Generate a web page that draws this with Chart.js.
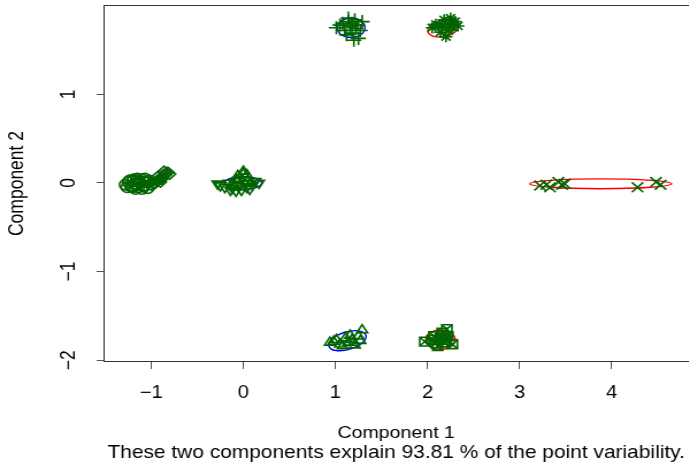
<!DOCTYPE html>
<html>
<head>
<meta charset="utf-8">
<script src="https://cdn.jsdelivr.net/npm/chart.js@4/dist/chart.umd.min.js"></script>
<style>
  html, body { margin: 0; padding: 0; background: #fff; overflow: hidden; }
  /* the reference is a horizontally stretched bitmap, so stretch ours the same way */
  #wrap { width: 599px; height: 465px; transform: scaleX(1.15); transform-origin: 0 0; }
  #c { display: block; }
</style>
</head>
<body>
<div id="wrap"><canvas id="c" width="599" height="465"></canvas></div>
<script>
const xTicks = [-1, 0, 1, 2, 3, 4];
const yTicks = [-2, -1, 0, 1];

// cluster near (-1, 0): open circles and diamonds
const circX = [-1.28, -1.25, -1.22, -1.2, -1.18, -1.16, -1.14, -1.12, -1.1, -1.08, -1.06, -1.04, -1.02, -1.0, -0.98, -1.15, -1.2, -1.1,
  -1.26, -1.23, -1.19, -1.13, -1.07, -1.03, -1.17, -1.09];
const circY = [-0.02, 0.01, -0.04, 0.02, -0.01, 0.03, -0.05, 0.0, 0.04, -0.03, 0.01, -0.06, 0.02, -0.02, 0.0, 0.05, -0.05, -0.07,
  -0.05, 0.03, 0.04, 0.02, 0.05, 0.03, -0.07, -0.04];
const diamX = [-0.96, -0.94, -0.92, -0.91, -0.9, -0.88, -0.87, -0.85, -0.84, -0.82, -0.86, -0.8, -0.89, -0.93];
const diamY = [0.0, 0.02, 0.03, 0.05, 0.01, 0.06, 0.08, 0.09, 0.11, 0.12, 0.13, 0.1, 0.04, 0.07];

// cluster near (0, 0): triangles up and down
const triUpX = [-0.12, -0.08, -0.04, 0.0, 0.02, 0.05, -0.1, 0.08, -0.02, 0.0, -0.06, 0.04];
const triUpY = [0.0, 0.03, 0.05, 0.1, 0.06, 0.02, -0.04, 0.0, -0.05, 0.13, 0.08, 0.09];
const triDnX = [-0.25, -0.2, -0.16, -0.12, -0.06, -0.02, 0.04, 0.1, 0.13, -0.08, -0.28, 0.17, -0.14, 0.07];
const triDnY = [-0.03, -0.05, 0.0, -0.06, -0.03, -0.08, -0.05, -0.02, 0.02, -0.09, -0.01, 0.0, -0.08, -0.07];

// top clusters: plus signs and asterisks
const plusX = [1.01, 1.05, 1.1, 1.14, 1.16, 1.18, 1.21, 1.24, 1.25, 1.2, 1.12, 1.27, 1.29, 1.14, 1.08, 1.22, 1.18];
const plusY = [1.75, 1.78, 1.72, 1.82, 1.76, 1.69, 1.84, 1.78, 1.63, 1.61, 1.67, 1.72, 1.82, 1.86, 1.8, 1.74, 1.8];
const starX = [2.05, 2.09, 2.14, 2.18, 2.21, 2.25, 2.27, 2.3, 2.33, 2.2, 2.16, 2.23, 2.12, 2.28];
const starY = [1.75, 1.79, 1.7, 1.84, 1.79, 1.86, 1.76, 1.82, 1.77, 1.65, 1.77, 1.72, 1.78, 1.8];

// right cluster: x marks
const crossX = [3.22, 3.29, 3.33, 3.42, 3.46, 3.49, 4.28, 4.48, 4.53];
const crossY = [-0.03, -0.02, -0.05, 0.01, -0.02, -0.01, -0.05, 0.01, -0.02];

// bottom clusters: triangles and boxed x
const triBX = [0.94, 1.01, 1.05, 1.11, 1.14, 1.18, 1.21, 1.25, 1.29, 1.27, 1.16, 1.08, 0.98, 1.2];
const triBY = [-1.8, -1.77, -1.82, -1.75, -1.8, -1.77, -1.83, -1.73, -1.66, -1.78, -1.72, -1.84, -1.79, -1.8];
const boxX = [1.97, 2.05, 2.09, 2.14, 2.18, 2.21, 2.22, 2.27, 2.11, 2.16, 2.07, 2.2];
const boxY = [-1.79, -1.77, -1.81, -1.75, -1.8, -1.65, -1.73, -1.82, -1.84, -1.69, -1.73, -1.77];

// cluster ellipses (data units)
const ellCx = [-0.92, 0.0, 1.17, 2.17, 3.88, 1.13, 2.14];
const ellCy = [0.06, 0.0, 1.75, 1.74, -0.01, -1.78, -1.77];
const ellA = [0.11, 0.2, 0.15, 0.17, 0.77, 0.21, 0.16];
const ellB = [0.06, 0.07, 0.11, 0.09, 0.055, 0.1, 0.11];
const ellAngle = [0.6, 0, 0, 0.2, 0, 0.3, 0];
const ellColor = ['#FF00FF', '#0000FF', '#0000FF', '#FF0000', '#FF0000', '#0000FF', '#FF0000'];

const green = '#006400';
const family = "'Liberation Sans', Arial, sans-serif";
const font = { family: family, size: 17.5 };

function pts(xs, ys) {
  return xs.map((x, i) => ({ x: x, y: ys[i] }));
}

function set(xs, ys, style, radius, rotation) {
  return {
    data: pts(xs, ys),
    pointStyle: style,
    pointRotation: rotation || 0,
    pointRadius: radius,
    pointBorderWidth: 1.6,
    pointBorderColor: green,
    pointBackgroundColor: 'rgba(0,0,0,0)',
    showLine: false
  };
}

const ellipsePlugin = {
  id: 'clusEllipses',
  beforeDatasetsDraw(chart) {
    const { ctx, chartArea, scales: { x, y } } = chart;
    const kx = x.getPixelForValue(1) - x.getPixelForValue(0);
    const ky = y.getPixelForValue(0) - y.getPixelForValue(1);
    ctx.save();
    ctx.beginPath();
    ctx.rect(chartArea.left, chartArea.top, chartArea.right - chartArea.left, chartArea.bottom - chartArea.top);
    ctx.clip();
    ellCx.forEach((cx, i) => {
      ctx.save();
      ctx.translate(x.getPixelForValue(cx), y.getPixelForValue(ellCy[i]));
      ctx.scale(kx, -ky);
      ctx.rotate(ellAngle[i]);
      ctx.beginPath();
      ctx.ellipse(0, 0, ellA[i], ellB[i], 0, 0, Math.PI * 2);
      ctx.restore();
      ctx.strokeStyle = ellColor[i];
      ctx.lineWidth = 1.4;
      ctx.stroke();
    });
    ctx.restore();
  }
};

const topBorder = {
  id: 'topBorder',
  afterDraw(chart) {
    const { ctx, chartArea } = chart;
    ctx.save();
    ctx.strokeStyle = '#333';
    ctx.lineWidth = 1;
    ctx.beginPath();
    ctx.moveTo(chartArea.left, chartArea.top + 0.5);
    ctx.lineTo(chartArea.right, chartArea.top + 0.5);
    ctx.stroke();
    ctx.restore();
  }
};

const minus = v => String(v).replace('-', '\u2212');

new Chart(document.getElementById('c'), {
  type: 'scatter',
  data: {
    datasets: [
      set(circX, circY, 'circle', 5.2),
      set(diamX, diamY, 'rectRot', 5.2),
      set(triUpX, triUpY, 'triangle', 5.4),
      set(triDnX, triDnY, 'triangle', 5.4, 180),
      set(plusX, plusY, 'cross', 6.5),
      set(starX, starY, 'star', 5.6),
      set(crossX, crossY, 'crossRot', 7),
      set(triBX, triBY, 'triangle', 5.4),
      set(boxX, boxY, 'rect', 6.2),
      set(boxX, boxY, 'crossRot', 6.2)
    ]
  },
  options: {
    responsive: false,
    animation: false,
    devicePixelRatio: 1,
    layout: { autoPadding: false, padding: { top: 5, right: 0, bottom: 0, left: 0 } },
    plugins: {
      legend: { display: false },
      tooltip: { enabled: false },
      subtitle: {
        display: true,
        position: 'bottom',
        fullSize: false,
        text: 'These two components explain 93.81 % of the point variability.',
        color: '#000',
        font: { family: family, size: 18.2, lineHeight: 1.1 },
        padding: { top: 0, bottom: 2 }
      }
    },
    scales: {
      x: {
        type: 'linear',
        min: -1.518,
        max: 4.837,
        afterBuildTicks: s => { s.ticks = xTicks.map(v => ({ value: v })); },
        afterFit: s => { s.height = 81; s.paddingLeft = 0; s.paddingRight = 0; },
        grid: { display: true, drawOnChartArea: false, drawTicks: true, tickLength: 7, color: '#555' },
        border: { display: true, color: '#333', width: 1 },
        ticks: { color: '#000', font: font, padding: 14, maxRotation: 0, callback: minus },
        title: {
          display: true,
          text: 'Component 1',
          color: '#000',
          font: { family: family, size: 17, lineHeight: 1.1 },
          padding: { top: 0, bottom: 0 }
        }
      },
      y: {
        type: 'linear',
        min: -2.02,
        max: 2.007,
        afterBuildTicks: s => { s.ticks = yTicks.map(v => ({ value: v })); },
        afterFit: s => { s.width = 90; s.paddingTop = 0; s.paddingBottom = 0; },
        grid: { display: true, drawOnChartArea: false, drawTicks: true, tickLength: 6, color: '#555' },
        border: { display: true, color: '#333', width: 1 },
        ticks: { color: '#000', font: font, padding: 14, minRotation: 90, maxRotation: 90, crossAlign: 'center', callback: minus },
        title: { display: true, text: 'Component 2', color: '#000', font: font, padding: { top: 5, bottom: 0 } }
      }
    }
  },
  plugins: [ellipsePlugin, topBorder]
});
</script>
</body>
</html>
